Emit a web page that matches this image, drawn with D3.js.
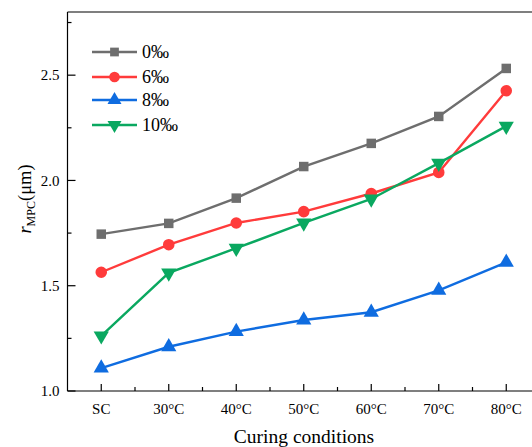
<!DOCTYPE html>
<html><head><meta charset="utf-8">
<script src="https://cdn.jsdelivr.net/npm/d3@7"></script>
<style>body{margin:0;background:#fff;} svg{display:block;font-family:"Liberation Serif","Times New Roman",serif;}</style>
</head><body>
<svg id="c" width="532" height="447"></svg>
<script>
const categories = ["SC","30°C","40°C","50°C","60°C","70°C","80°C"];
const seriesNames = ["0‰","6‰","8‰","10‰"];
const s0 = [1.745,1.796,1.916,2.066,2.176,2.304,2.532];
const s6 = [1.564,1.695,1.798,1.852,1.938,2.038,2.426];
const s8 = [1.109,1.210,1.282,1.337,1.374,1.478,1.611];
const s10 = [1.262,1.561,1.678,1.798,1.912,2.082,2.258];
const yTicks = [1.0,1.5,2.0,2.5];
const yMinor = [1.25,1.75,2.25,2.75];

const colors = ["#6e6e6e","#ff3b3b","#0f6ce0","#0aa860"];
const symbols = [d3.symbolSquare, d3.symbolCircle, d3.symbolTriangle, "down"];
const series = [s0,s6,s8,s10];

const svg = d3.select("#c");
const L = 67.5, T = 12, B = 391, step = 67.5;
const x = d3.scaleBand().domain(categories).range([L, L + step*categories.length]);
const cx = c => x(c) + x.bandwidth()/2;
const y = d3.scaleLinear().domain([1.0, 2.8]).range([B, T]);

// frame
svg.append("line").attr("x1",L).attr("x2",540).attr("y1",T).attr("y2",T).attr("stroke","#000").attr("stroke-width",1.2);
svg.append("line").attr("x1",L).attr("x2",L).attr("y1",T).attr("y2",B).attr("stroke","#000").attr("stroke-width",1.2);
svg.append("line").attr("x1",L).attr("x2",540).attr("y1",B).attr("y2",B).attr("stroke","#000").attr("stroke-width",1.2);

// y ticks
yTicks.forEach(v=>{
  svg.append("line").attr("x1",L).attr("x2",L+8).attr("y1",y(v)).attr("y2",y(v)).attr("stroke","#000").attr("stroke-width",1.2);
  svg.append("text").attr("x",L-8).attr("y",y(v)).attr("dy","0.35em").attr("text-anchor","end").attr("font-size",15).text(v.toFixed(1));
});
yMinor.forEach(v=>{
  svg.append("line").attr("x1",L).attr("x2",L+4).attr("y1",y(v)).attr("y2",y(v)).attr("stroke","#000").attr("stroke-width",1.2);
});
// x ticks
categories.forEach((c,i)=>{
  svg.append("line").attr("x1",cx(c)).attr("x2",cx(c)).attr("y1",B).attr("y2",B-7).attr("stroke","#000").attr("stroke-width",1.2);
  svg.append("text").attr("x",cx(c)).attr("y",B+18).attr("dy","0.35em").attr("text-anchor","middle").attr("font-size",15).text(c);
  if(i>0){
    const m = x(c);
    svg.append("line").attr("x1",m).attr("x2",m).attr("y1",B).attr("y2",B-4).attr("stroke","#000").attr("stroke-width",1.2);
  }
});
svg.append("text").attr("x",304).attr("y",436).attr("dy","0.35em").attr("text-anchor","middle").attr("font-size",19.5).text("Curing conditions");

// y label
const yl = svg.append("text").attr("transform","translate(31,199) rotate(-90)").attr("text-anchor","middle").attr("font-size",18.5);
yl.append("tspan").attr("font-style","italic").text("r");
yl.append("tspan").attr("font-size",12).attr("dy",4).text("MPC");
yl.append("tspan").attr("dy",-4).text("(μm)");

function marker(g, i, px, py, size){
  let p;
  if(symbols[i]==="down"){
    p = g.append("path").attr("d", d3.symbol(d3.symbolTriangle, size)()).attr("transform",`translate(${px},${py}) rotate(180)`);
  } else {
    p = g.append("path").attr("d", d3.symbol(symbols[i], size)()).attr("transform",`translate(${px},${py})`);
  }
  p.attr("fill",colors[i]);
}

const line = d3.line().x((d,j)=>cx(categories[j])).y(d=>y(d));
const sizes = [90,105,100,100];
series.forEach((s,i)=>{
  const g = svg.append("g");
  g.append("path").attr("d",line(s)).attr("fill","none").attr("stroke",colors[i]).attr("stroke-width",2.4);
  s.forEach((v,j)=>marker(g,i,cx(categories[j]),y(v),sizes[i]));
});

// legend
const ly = [52,77,100,125];
seriesNames.forEach((n,i)=>{
  const g = svg.append("g");
  g.append("line").attr("x1",92).attr("x2",137).attr("y1",ly[i]).attr("y2",ly[i]).attr("stroke",colors[i]).attr("stroke-width",2.4);
  marker(g,i,114.5,ly[i],sizes[i]*0.85);
  g.append("text").attr("x",142).attr("y",ly[i]).attr("dy","0.35em").attr("font-size",18).text(n);
});
</script>
</body></html>
